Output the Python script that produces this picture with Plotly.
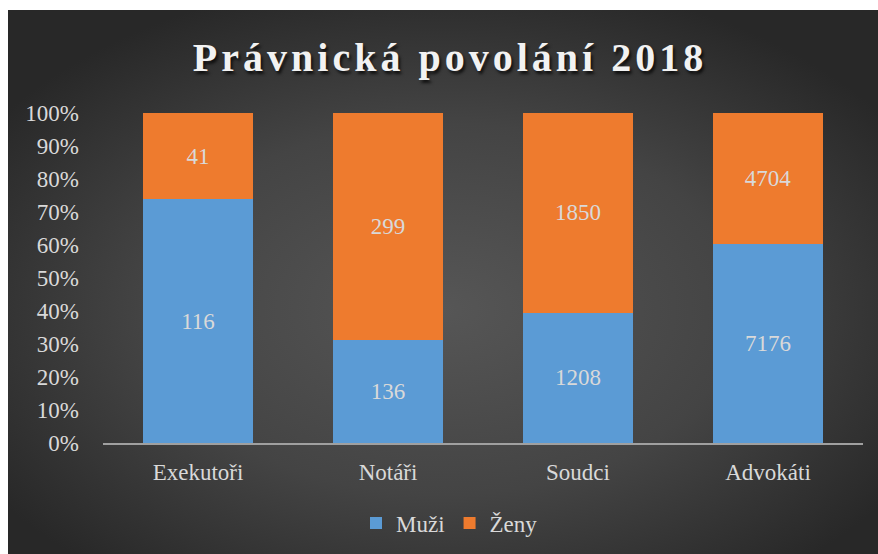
import base64
import plotly.graph_objects as go

categories = ["Exekutoři", "Notáři", "Soudci", "Advokáti"]
muzi = [116, 136, 1208, 7176]
zeny = [41, 299, 1850, 4704]
series_names = ["Muži", "Ženy"]
title_text = "Právnická povolání 2018"

# figure sits 8px from the left and 10px from the top of the page
W, H = 870, 544
ML, MR, MT, MB = 95, 15, 103, 111
PW, PH = W - ML - MR, H - MT - MB

svg = """<svg xmlns='http://www.w3.org/2000/svg' width='870' height='544' viewBox='0 0 870 544' preserveAspectRatio='none'>
<defs><radialGradient id='g' cx='0.5' cy='0.55' r='0.62'>
<stop offset='0' stop-color='#565656'/><stop offset='0.55' stop-color='#444444'/><stop offset='1' stop-color='#282828'/>
</radialGradient></defs><rect width='870' height='544' fill='url(#g)'/></svg>"""
bg_uri = "data:image/svg+xml;base64," + base64.b64encode(svg.encode()).decode()

serif = "Liberation Serif, Times New Roman, serif"
txt_col = "#d9d9d9"
FS = 23

fig = go.Figure()
fig.add_trace(go.Bar(
    x=categories, y=muzi, name=series_names[0], text=muzi,
    texttemplate="%{text}", textposition="inside", insidetextanchor="middle",
    textangle=0, constraintext="none",
    textfont=dict(family=serif, size=FS, color=txt_col),
    marker=dict(color="#5b9bd5", line=dict(width=0)),
))
fig.add_trace(go.Bar(
    x=categories, y=zeny, name=series_names[1], text=zeny,
    texttemplate="%{text}", textposition="inside", insidetextanchor="middle",
    textangle=0, constraintext="none",
    textfont=dict(family=serif, size=FS, color=txt_col),
    marker=dict(color="#ee7b2e", line=dict(width=0)),
))

fig.update_layout(
    width=W, height=H, autosize=False,
    margin=dict(l=ML, r=MR, t=MT, b=MB, pad=0, autoexpand=False),
    paper_bgcolor="#2e2e2e", plot_bgcolor="rgba(0,0,0,0)",
    barmode="stack", barnorm="percent", bargap=0.426,
    title=dict(
        text="<span style='letter-spacing:4px'>" + title_text + "</span>",
        x=442 / W, xref="container", xanchor="center",
        y=1 - 47 / H, yref="container", yanchor="middle",
        font=dict(family=serif, size=40, color="#f2f2f2", weight="bold",
                  shadow="2px 3px 3px rgba(0,0,0,0.7)"),
    ),
    legend=dict(
        orientation="h", traceorder="normal",
        x=(348 - ML) / PW, xanchor="left",
        y=(H - MB - 513) / PH, yanchor="middle",
        font=dict(family=serif, size=FS, color=txt_col),
        bgcolor="rgba(0,0,0,0)", itemwidth=30, tracegroupgap=0,
    ),
    images=[dict(
        source=bg_uri, xref="paper", yref="paper",
        x=-ML / PW, y=(H - MB) / PH,
        sizex=W / PW, sizey=H / PH,
        xanchor="left", yanchor="top", sizing="stretch", layer="below",
    )],
    showlegend=True,
)
fig.update_xaxes(
    showline=True, linecolor="#a0a0a0", linewidth=2, showgrid=False,
    ticks="", tickfont=dict(family=serif, size=FS, color=txt_col),
    ticklabelstandoff=7,
)
fig.update_yaxes(
    range=[0, 100], dtick=10, ticksuffix="%", showgrid=False, zeroline=False,
    showline=False, ticks="", tickfont=dict(family=serif, size=FS, color=txt_col),
    ticklabelstandoff=23,
)

fig.write_html(
    "out.html",
    config={"displayModeBar": False, "responsive": False},
    post_script="document.body.style.margin='10px 0 0 8px';document.documentElement.style.overflow='hidden';",
)
